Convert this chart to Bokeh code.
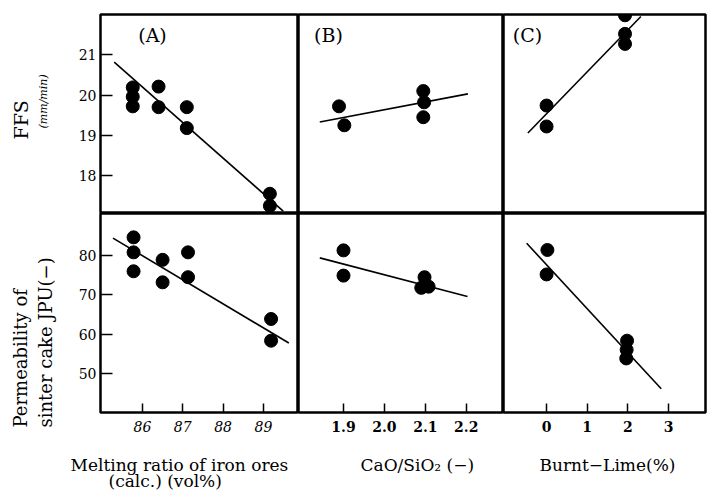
import math
from bokeh.plotting import figure
from bokeh.layouts import column, row
from bokeh.models import FixedTicker, Label, Title
from bokeh.embed import file_html
from bokeh.resources import INLINE

# ---------------- data ----------------
# (A) melting ratio of iron ores
melt_ffs_x = [85.76, 85.76, 85.76, 86.40, 86.40, 87.10, 87.10, 89.16, 89.16]
melt_ffs_y = [20.19, 19.96, 19.72, 20.21, 19.70, 19.70, 19.18, 17.55, 17.25]
melt_ffs_fit_x = [85.30, 89.49]
melt_ffs_fit_y = [20.82, 17.12]

melt_jpu_x = [85.78, 85.78, 85.78, 86.50, 86.50, 87.13, 87.13, 89.19, 89.19]
melt_jpu_y = [84.6, 80.8, 76.0, 78.9, 73.2, 80.8, 74.5, 63.9, 58.4]
melt_jpu_fit_x = [85.27, 89.63]
melt_jpu_fit_y = [84.4, 57.8]

# (B) CaO/SiO2
bas_ffs_x = [1.889, 1.902, 2.095, 2.097, 2.095]
bas_ffs_y = [19.72, 19.25, 20.10, 19.82, 19.45]
bas_ffs_fit_x = [1.842, 2.204]
bas_ffs_fit_y = [19.33, 20.03]

bas_jpu_x = [1.900, 1.900, 2.098, 2.090, 2.108]
bas_jpu_y = [81.3, 74.9, 74.5, 71.8, 72.1]
bas_jpu_fit_x = [1.842, 2.203]
bas_jpu_fit_y = [79.4, 69.6]

# (C) Burnt lime
lime_ffs_x = [0.0, 0.0, 1.93, 1.93, 1.93]
lime_ffs_y = [19.74, 19.22, 21.98, 21.52, 21.27]
lime_ffs_fit_x = [-0.46, 2.32]
lime_ffs_fit_y = [19.06, 21.95]

lime_jpu_x = [0.02, 0.0, 1.98, 1.97, 1.96]
lime_jpu_y = [81.4, 75.2, 58.4, 56.1, 53.9]
lime_jpu_fit_x = [-0.49, 2.82]
lime_jpu_fit_y = [83.1, 46.2]

# ticks
ffs_ticks = [18, 19, 20, 21]
jpu_ticks = [50, 60, 70, 80]
melt_ticks = [86, 87, 88, 89]
melt_tick_labels = ["86", "87", "88", "89"]
bas_ticks = [1.9, 2.0, 2.1, 2.2]
bas_tick_labels = ["1.9", "2.0", "2.1", "2.2"]
lime_ticks = [0, 1, 2, 3]
lime_tick_labels = ["0", "1", "2", "3"]

# ---------------- styling ----------------
FONT = "DejaVu Serif"
FH = 199
ffs_range = (17.06, 22.0)
jpu_range = (40.19, 90.65)
melt_range = (84.96, 89.87)
bas_range = (1.790, 2.291)
lime_range = (-1.06, 3.91)


def make_fig(fw, xr, yr, left, right, top, bottom, has_x, has_y):
    p = figure(frame_width=fw, frame_height=FH, x_range=xr, y_range=yr,
               output_backend="svg", toolbar_location=None,
               x_axis_location="below" if has_x else None,
               y_axis_location="left" if has_y else None,
               min_border_left=left, min_border_right=right,
               min_border_top=top, min_border_bottom=bottom)
    p.grid.visible = False
    p.outline_line_color = "black"
    p.outline_line_width = 2.5
    p.background_fill_color = "white"
    p.border_fill_color = "white"
    return p


def style_axis(ax, ticks, tick_in, standoff, labels=None, style="normal"):
    ax.ticker = FixedTicker(ticks=ticks)
    ax.major_tick_in = tick_in
    ax.major_tick_out = 0
    ax.minor_tick_line_color = None
    ax.axis_line_color = None
    ax.major_tick_line_color = "black"
    ax.major_tick_line_width = 1.5
    ax.major_label_text_font = FONT
    ax.major_label_text_font_size = "14px"
    ax.major_label_text_font_style = style
    ax.major_label_text_color = "black"
    ax.major_label_standoff = standoff
    if labels is not None:
        ax.major_label_overrides = {t: l for t, l in zip(ticks, labels)}


def add_label(p, x, y, text, size="16px"):
    p.add_layout(Label(x=x, y=y, x_units="screen", y_units="screen", text=text,
                       text_align="center", text_baseline="middle",
                       text_font=FONT, text_font_size=size, text_color="black"))


def add_title(p, side, text, offset, standoff, size="17px", style="normal",
              valign="bottom"):
    p.add_layout(Title(text=text, align="left", offset=offset, standoff=standoff,
                       vertical_align=valign,
                       text_font=FONT, text_font_size=size, text_font_style=style,
                       text_color="black"), side)


def draw(p, xs, ys, fx, fy):
    p.line(fx, fy, line_color="black", line_width=1.6)
    p.scatter(xs, ys, size=13, fill_color="black", line_color="black")


# top row
a1 = make_fig(198, melt_range, ffs_range, 100, 0, 14, 0, False, True)
b1 = make_fig(205, bas_range, ffs_range, 0, 0, 14, 0, False, False)
c1 = make_fig(202, lime_range, ffs_range, 0, 4, 14, 0, False, False)
# bottom row
a2 = make_fig(198, melt_range, jpu_range, 100, 0, 0, 87, True, True)
b2 = make_fig(205, bas_range, jpu_range, 0, 0, 0, 87, True, False)
c2 = make_fig(202, lime_range, jpu_range, 0, 4, 0, 87, True, False)

style_axis(a1.yaxis[0], ffs_ticks, 12, 4)
style_axis(a2.yaxis[0], jpu_ticks, 12, 4)
style_axis(a2.xaxis[0], melt_ticks, 9, 8, melt_tick_labels, "italic")
style_axis(b2.xaxis[0], bas_ticks, 9, 8, bas_tick_labels, "bold")
style_axis(c2.xaxis[0], lime_ticks, 9, 8, lime_tick_labels, "bold")

draw(a1, melt_ffs_x, melt_ffs_y, melt_ffs_fit_x, melt_ffs_fit_y)
draw(a2, melt_jpu_x, melt_jpu_y, melt_jpu_fit_x, melt_jpu_fit_y)
draw(b1, bas_ffs_x, bas_ffs_y, bas_ffs_fit_x, bas_ffs_fit_y)
draw(b2, bas_jpu_x, bas_jpu_y, bas_jpu_fit_x, bas_jpu_fit_y)
draw(c1, lime_ffs_x, lime_ffs_y, lime_ffs_fit_x, lime_ffs_fit_y)
draw(c2, lime_jpu_x, lime_jpu_y, lime_jpu_fit_x, lime_jpu_fit_y)

# panel letters
add_label(a1, 52, 179, "(A)", "19px")
add_label(b1, 30, 179, "(B)", "19px")
add_label(c1, 24, 179, "(C)", "19px")

# y axis titles (inner first)
add_title(a1, "left", "(mm/min)", 85, 52, "11px", "italic")
add_title(a1, "left", "FFS", 74, -47, "19px")
add_title(a2, "left", "sinter cake JPU(\u2212)", -15, 39, "18px")
add_title(a2, "left", "Permeability of", -15, -34, "18px")

# x axis titles
add_title(a2, "below", "Melting ratio of iron ores", -30, 37)
add_title(a2, "below", "(calc.) (vol%)", 8, -46, valign="top")
add_title(b2, "below", "CaO/SiO\u2082 (\u2212)", 62, 37)
add_title(c2, "below", "Burnt\u2212Lime(%)", 36, 37)

layout = column(row(a1, b1, c1), row(a2, b2, c2))

open("out.html", "w").write(file_html(layout, INLINE))
